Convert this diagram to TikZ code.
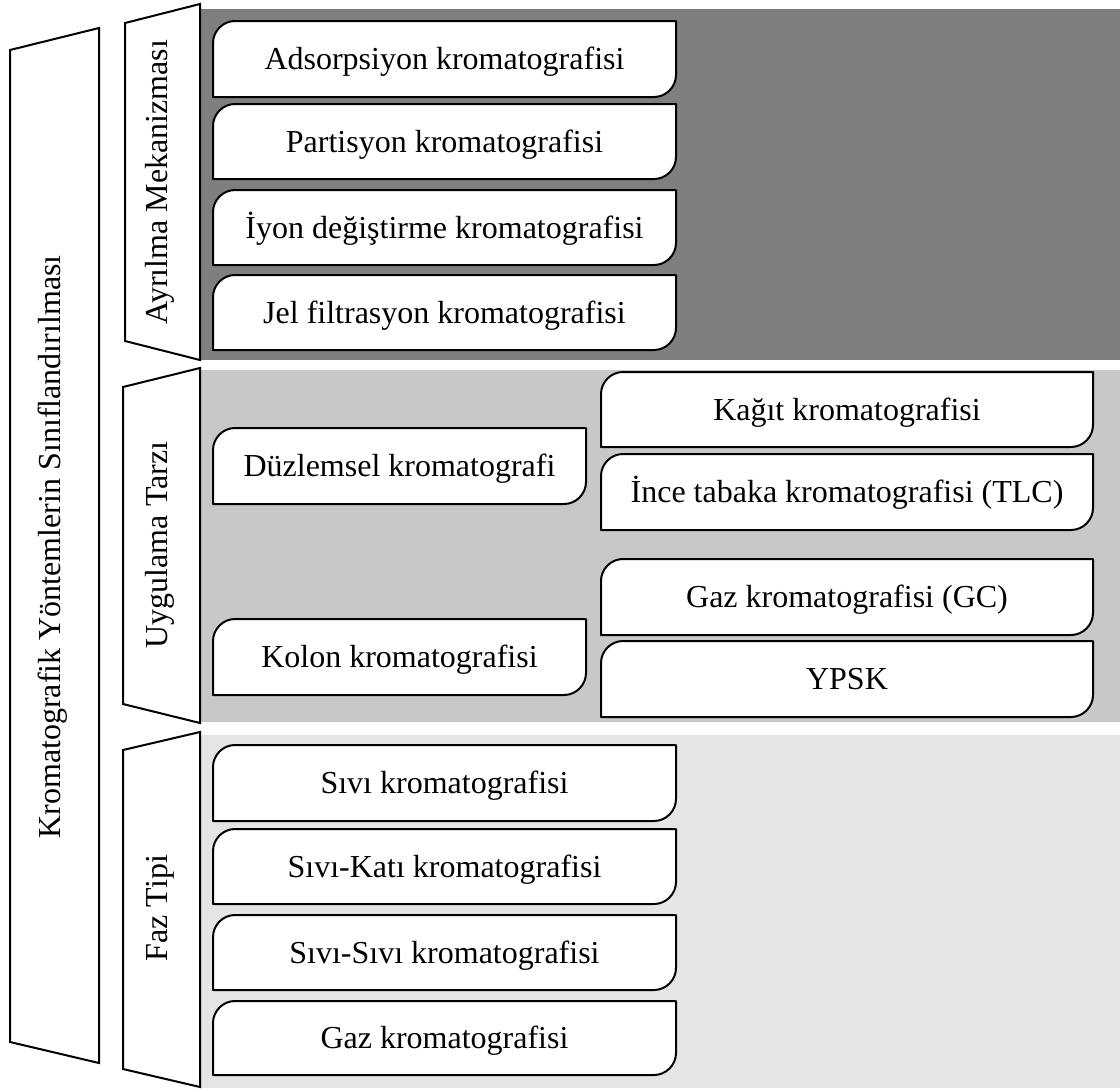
\documentclass[tikz,border=0pt]{standalone}
\usepackage{fontspec}
\setmainfont{Liberation Serif}
\definecolor{pdark}{HTML}{7F7F7F}
\definecolor{pmid}{HTML}{C8C8C8}
\definecolor{plight}{HTML}{E5E5E5}
\tikzset{
  boxline/.style={draw=black, line width=2pt, fill=white, line join=round},
  trap/.style={draw=black, line width=2pt, fill=white, line join=miter},
  lbl/.style={inner sep=0pt, text height=21pt, text depth=0pt, font=\fontsize{32}{38}\selectfont},
  vlbl/.style={lbl, rotate=90}
}
\newcommand\tbox[6]{%
  \draw[boxline] ({#2},{#5}) -- ({#2},{#3+22}) .. controls ({#2},{#3+10}) and ({#2+10},{#3}) .. ({#2+22},{#3}) -- ({#4},{#3}) -- ({#4},{#5-22}) .. controls ({#4},{#5-10}) and ({#4-10},{#5}) .. ({#4-22},{#5}) -- cycle;
  \node[lbl] (#1) at ({(#2+#4)/2},{(#3+#5)/2}) {#6};}
\begin{document}
\begin{tikzpicture}[x=1pt,y=-1pt]
\useasboundingbox (0,0) rectangle (1120,1088);
% panels
\fill[pdark] (200,9) rectangle (1120,360);
\fill[pmid] (200,370) rectangle (1120,722);
\fill[plight] (200,735) rectangle (1120,1088);
% trapezoids
\draw[trap] (10,50) -- (99,28) -- (99,1063) -- (10,1042) -- cycle;
\draw[trap] (125,23) -- (200,4) -- (200,360) -- (125,341) -- cycle;
\draw[trap] (123,387) -- (200,368) -- (200,723) -- (123,704) -- cycle;
\draw[trap] (123,750) -- (200,732) -- (200,1087) -- (123,1069) -- cycle;
\node[vlbl] (root) at (50,547) {Kromatografik Yöntemlerin Sınıflandırılması};
\node[vlbl] (ayr) at (157,182) {Ayrılma Mekanizması};
\node[vlbl] (uyg) at (157,545) {Uygulama Tarzı};
\node[vlbl] (faz) at (157,908) {Faz Tipi};
% Ayrilma boxes
\tbox{a1}{213}{21}{676}{97}{Adsorpsiyon kromatografisi}
\tbox{a2}{213}{104}{676}{179}{Partisyon kromatografisi}
\tbox{a3}{213}{190}{676}{265}{İyon değiştirme kromatografisi}
\tbox{a4}{213}{275}{676}{350}{Jel filtrasyon kromatografisi}
% Uygulama boxes
\tbox{u1}{213}{428}{586}{504}{Düzlemsel kromatografi}
\tbox{u2}{213}{619}{586}{695}{Kolon kromatografisi}
\tbox{u11}{601}{372}{1093}{447}{Kağıt kromatografisi}
\tbox{u12}{601}{454}{1093}{530}{İnce tabaka kromatografisi (TLC)}
\tbox{u21}{601}{559}{1093}{635}{Gaz kromatografisi (GC)}
\tbox{u22}{601}{641}{1093}{717}{YPSK}
% Faz boxes
\tbox{f1}{213}{745}{676}{821}{Sıvı kromatografisi}
\tbox{f2}{213}{829}{676}{904}{Sıvı-Katı kromatografisi}
\tbox{f3}{213}{915}{676}{990}{Sıvı-Sıvı kromatografisi}
\tbox{f4}{213}{1001}{676}{1075}{Gaz kromatografisi}
\end{tikzpicture}
\end{document}
